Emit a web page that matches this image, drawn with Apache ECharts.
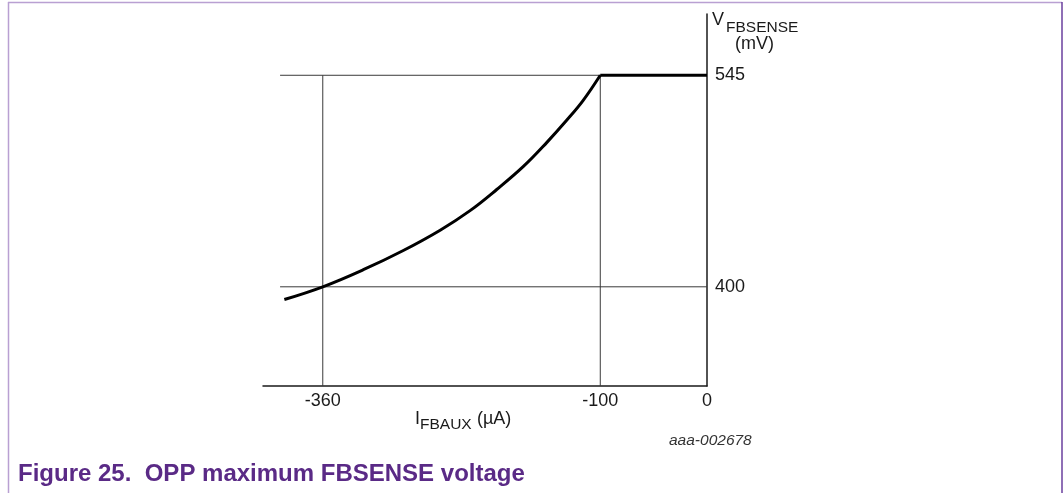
<!DOCTYPE html>
<html>
<head>
<meta charset="utf-8">
<script src="https://cdn.jsdelivr.net/npm/echarts@6/dist/echarts.min.js"></script>
<style>
html,body{margin:0;padding:0;background:#fff;}
#chart{width:1064px;height:493px;}
</style>
</head>
<body>
<div id="chart"></div>
<script>
// Data
const curveX = [-396, -360, -322, -285, -250, -222, -197, -172, -150, -131.5, -116, -100];
const curveY = [391.3, 400, 411.7, 424.7, 438.8, 452.2, 466.7, 482.5, 499.0, 514.1, 527.8, 545];
const flatX = [-100, 0];
const flatY = [545, 545];
const xTicks = [-360, -100, 0];
const yTicks = [400, 545];
const xRange = [-416, 0];
const yRange = [332, 587];
const gridStartX = -400;

const chart = echarts.init(document.getElementById('chart'), null, {renderer: 'canvas'});

const zip = (a, b) => a.map((v, i) => [v, b[i]]);
const FONT = '"Liberation Sans", Arial, sans-serif';

const gridSeries = [];
// vertical reference lines
[xTicks[0], xTicks[1]].forEach(v => {
  gridSeries.push({
    type: 'line', silent: true, symbol: 'none', z: 1,
    lineStyle: {color: '#3a3a3a', width: 1},
    data: [[v, yTicks[1]], [v, yRange[0]]]
  });
});
// horizontal reference lines
yTicks.forEach(v => {
  gridSeries.push({
    type: 'line', silent: true, symbol: 'none', z: 1,
    lineStyle: {color: '#3a3a3a', width: 1},
    data: [[gridStartX, v], [xRange[1], v]]
  });
});

const option = {
  animation: false,
  backgroundColor: '#ffffff',
  grid: {left: 263, right: 357, top: 14, bottom: 107, containLabel: false},
  xAxis: {
    type: 'value', min: xRange[0], max: xRange[1],
    splitLine: {show: false},
    axisLine: {show: true, onZero: false, lineStyle: {color: '#1a1a1a', width: 1.5}},
    axisTick: {show: false},
    axisLabel: {
      customValues: xTicks, color: '#1a1a1a', fontSize: 18, fontFamily: FONT, margin: 6,
      showMinLabel: true, showMaxLabel: true
    }
  },
  yAxis: {
    type: 'value', min: yRange[0], max: yRange[1], position: 'right',
    splitLine: {show: false},
    axisLine: {show: true, onZero: false, lineStyle: {color: '#1a1a1a', width: 1.5}},
    axisTick: {show: false},
    axisLabel: {
      customValues: yTicks, color: '#1a1a1a', fontSize: 18, fontFamily: FONT, margin: 8
    }
  },
  series: gridSeries.concat([
    {
      type: 'line', name: 'curve', symbol: 'none', smooth: 0.4, z: 3,
      lineStyle: {color: '#000', width: 3},
      data: zip(curveX, curveY)
    },
    {
      type: 'line', name: 'flat', symbol: 'none', z: 3,
      lineStyle: {color: '#000', width: 3},
      data: zip(flatX, flatY)
    }
  ]),
  graphic: [
    // frame
    {type: 'line', shape: {x1: 8, y1: 2.5, x2: 1062, y2: 2.5}, style: {stroke: '#b9a0d2', lineWidth: 1.5}},
    {type: 'line', shape: {x1: 8.5, y1: 2, x2: 8.5, y2: 493}, style: {stroke: '#b9a0d2', lineWidth: 1.5}},
    {type: 'line', shape: {x1: 1062, y1: 2, x2: 1062, y2: 493}, style: {stroke: '#6a3f9e', lineWidth: 1.5}},
    // y axis name
    {type: 'text', left: 712, top: 11, style: {text: 'V', fontSize: 18, fontFamily: FONT, fill: '#1a1a1a'}},
    {type: 'text', left: 726, top: 20, style: {text: 'FBSENSE', fontSize: 15.5, fontFamily: FONT, fill: '#1a1a1a'}},
    {type: 'text', left: 735, top: 35, style: {text: '(mV)', fontSize: 18, fontFamily: FONT, fill: '#1a1a1a'}},
    // x axis name
    {type: 'text', left: 415, top: 410, style: {text: 'I', fontSize: 18, fontFamily: FONT, fill: '#1a1a1a'}},
    {type: 'text', left: 420, top: 417, style: {text: 'FBAUX', fontSize: 15.5, fontFamily: FONT, fill: '#1a1a1a'}},
    {type: 'text', left: 472, top: 410, style: {text: ' (µA)', fontSize: 18, fontFamily: FONT, fill: '#1a1a1a'}},
    // figure id
    {type: 'text', left: 669, top: 433, style: {text: 'aaa-002678', fontSize: 15.5, fontStyle: 'italic', fontFamily: FONT, fill: '#333'}},
    // caption
    {type: 'text', left: 18, top: 462, style: {text: 'Figure 25.  OPP maximum FBSENSE voltage', fontSize: 24, fontWeight: 'bold', fontFamily: FONT, fill: '#5a2a86'}}
  ]
};
chart.setOption(option);
</script>
</body>
</html>
